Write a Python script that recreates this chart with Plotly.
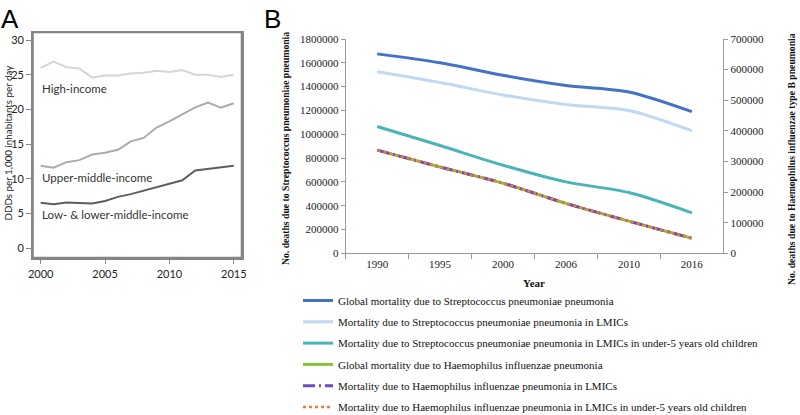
import plotly.graph_objects as go

W, H = 800, 415


def fx(px):
    return px / W


def fy(px):
    return 1 - px / H


# ---------------- Panel A data ----------------
years_a = list(range(2000, 2016))
high_income = [26.0, 26.9, 26.1, 25.9, 24.6, 24.9, 24.9, 25.2, 25.3, 25.6, 25.4, 25.7, 25.0, 25.0, 24.7, 25.0]
upper_middle_income = [11.9, 11.6, 12.4, 12.7, 13.5, 13.75, 14.2, 15.4, 15.9, 17.4, 18.3, 19.3, 20.3, 21.0, 20.25, 20.9]
low_lower_middle_income = [6.55, 6.35, 6.6, 6.55, 6.45, 6.8, 7.4, 7.8, 8.3, 8.85, 9.4, 9.8, 11.2, 11.4, 11.6, 11.9]
a_xticks = [2000, 2005, 2010, 2015]
a_yticks = [0, 5, 10, 15, 20, 25, 30]
a_labels = ["High-income", "Upper-middle-income", "Low- & lower-middle-income"]

# ---------------- Panel B data ----------------
years_b = ["1990", "1995", "2000", "2006", "2010", "2016"]
strep_global = [1675000, 1600000, 1495000, 1410000, 1355000, 1190000]
strep_lmic = [1525000, 1435000, 1330000, 1250000, 1200000, 1030000]
strep_lmic_u5 = [1065000, 905000, 740000, 600000, 510000, 340000]
haem_global = [337000, 282000, 229000, 163000, 105000, 49000]
haem_lmic = [337000, 282000, 229000, 163000, 105000, 49000]
haem_lmic_u5 = [337000, 282000, 229000, 163000, 105000, 49000]
b_left_ticks = list(range(0, 1800001, 200000))
b_right_ticks = list(range(0, 700001, 100000))
b_names = [
    "Global mortality due to Streptococcus pneumoniae pneumonia",
    "Mortality due to Streptococcus pneumoniae pneumonia in LMICs",
    "Mortality due to Streptococcus pneumoniae pneumonia in LMICs in under-5 years old children",
    "Global mortality due to Haemophilus influenzae pneumonia",
    "Mortality due to Haemophilus influenzae pneumonia in LMICs",
    "Mortality due to Haemophilus influenzae pneumonia in LMICs in under-5 years old children",
]

fig = go.Figure()

# Panel A traces
for vals, col in [(high_income, "#d6d6d6"), (upper_middle_income, "#ababab"), (low_lower_middle_income, "#5e5e5e")]:
    fig.add_trace(go.Scatter(x=years_a, y=vals, mode="lines", line=dict(color=col, width=2),
                             xaxis="x", yaxis="y", showlegend=False, hoverinfo="skip"))

# Panel B traces
b_series = [
    (strep_global, "y2", dict(color="#4472c4", width=3, shape="spline", smoothing=0.8)),
    (strep_lmic, "y2", dict(color="#c0d8f0", width=3, shape="spline", smoothing=0.8)),
    (strep_lmic_u5, "y2", dict(color="#4bb4b8", width=3, shape="spline", smoothing=0.8)),
    (haem_global, "y3", dict(color="#86c23a", width=3, shape="spline", smoothing=0.8)),
    (haem_lmic, "y3", dict(color="#6a4cc0", width=3, dash="12px,4px,2px,4px", shape="spline", smoothing=0.8)),
    (haem_lmic_u5, "y3", dict(color="#ed7d31", width=2.5, dash="dot", shape="spline", smoothing=0.8)),
]
for i, (vals, ya, ln) in enumerate(b_series):
    fig.add_trace(go.Scatter(x=years_b, y=vals, mode="lines", line=ln, name=b_names[i],
                             xaxis="x2", yaxis=ya, legendgroup="g%d" % i))

sans = "Lato"
serif = "Liberation Serif"
axis_a = dict(showline=True, mirror=True, linecolor="#858585", linewidth=1.6, showgrid=False,
              zeroline=False, ticks="outside", ticklen=5, tickcolor="#858585", tickwidth=1.2,
              automargin=False, tickfont=dict(family=sans, size=11, color="#222"))
axis_b = dict(showline=True, linecolor="#9a9a9a", linewidth=1, showgrid=False, zeroline=False,
              ticks="outside", tickcolor="#9a9a9a", automargin=False,
              tickfont=dict(family=serif, size=11, color="#222"))

fig.update_layout(
    width=W, height=H, margin=dict(l=0, r=0, t=0, b=0, autoexpand=False),
    paper_bgcolor="white", plot_bgcolor="white",
    xaxis=dict(domain=[fx(33), fx(241.5)], range=[1999.4, 2015.6], tickvals=a_xticks, anchor="y", **axis_a),
    yaxis=dict(domain=[fy(257.5), fy(32.5)], range=[-1.34, 31.1], tickvals=a_yticks, anchor="x", **axis_a),
    xaxis2=dict(domain=[fx(345.7), fx(723.3)], type="category", range=[-0.5, 5.5], tickson="boundaries",
                ticklen=5, anchor="y2", **axis_b),
    yaxis2=dict(domain=[fy(253.3), fy(39)], range=[0, 1800000], tickvals=b_left_ticks, tickformat="d",
                ticklen=4, anchor="x2", **axis_b),
    yaxis3=dict(overlaying="y2", side="right", range=[0, 700000], tickvals=b_right_ticks, tickformat="d",
                ticklen=4, anchor="x2", **axis_b),
    legend=dict(x=fx(298), y=fy(286), xref="container", yref="container", xanchor="left", yanchor="top",
                orientation="v", font=dict(family=serif, size=11, color="#111"), bgcolor="rgba(0,0,0,0)",
                tracegroupgap=2.3, itemwidth=30),
    showlegend=True,
    shapes=[dict(type="rect", xref="x domain", yref="y domain", x0=0, x1=1, y0=0, y1=1,
                 line=dict(color="#858585", width=1.6), fillcolor="rgba(0,0,0,0)", layer="above")],
)

ann = []
ann.append(dict(text="A", x=fx(10), y=fy(19), font=dict(family="Liberation Sans", size=26, color="#000")))
ann.append(dict(text="B", x=fx(272), y=fy(19), font=dict(family="Liberation Sans", size=26, color="#000")))
ann.append(dict(text="DDDs per 1,000 inhabitants per day", x=fx(7.5), y=fy(143), textangle=-90,
                font=dict(family=sans, size=9.8, color="#222")))
for txt, ypx in zip(a_labels, [88, 177, 214]):
    ann.append(dict(text=txt, x=fx(40), y=fy(ypx), xanchor="left",
                    font=dict(family=sans, size=11.5, color="#333")))
ann.append(dict(text="<b>No. deaths due to Streptococcus pneumoniae pneumonia</b>", x=fx(285), y=fy(149),
                textangle=-90, font=dict(family=serif, size=9.7, color="#111")))
ann.append(dict(text="<b>No. deaths due to Haemophilus influenzae type B pneumonia</b>", x=fx(791), y=fy(159),
                textangle=-90, font=dict(family=serif, size=9.7, color="#111")))
ann.append(dict(text="<b>Year</b>", x=fx(534), y=fy(283), font=dict(family=serif, size=11, color="#111")))
for a in ann:
    a.setdefault("xanchor", "center")
    a.update(xref="paper", yref="paper", yanchor="middle", showarrow=False)
fig.update_layout(annotations=ann)

fig.write_html("out.html", config={"displayModeBar": False},
               post_script="document.body.style.margin='0px';document.body.style.padding='0px';")
